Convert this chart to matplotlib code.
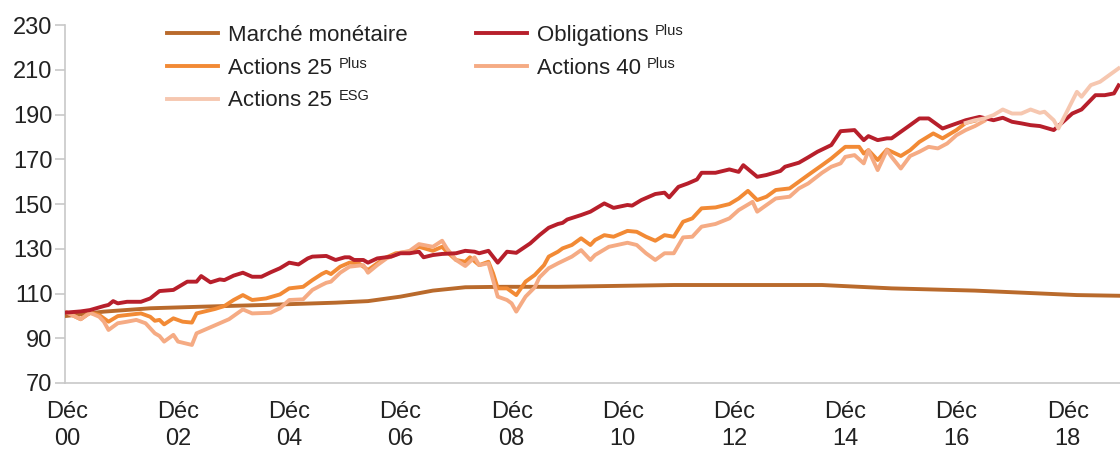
import matplotlib
matplotlib.use("Agg")
import matplotlib.pyplot as plt

plt.rcParams['font.family'] = ['Liberation Sans', 'DejaVu Sans']

# months since Dec 2000, index values
mm_m = [0, 8, 18, 29, 43, 58, 65, 72, 79, 86, 94, 106, 131, 163, 178, 196, 218, 227]
mm_v = [100, 101.9, 103.4, 104.1, 104.9, 105.9, 106.6, 108.6, 111.3, 112.8, 113, 113,
        113.8, 113.8, 112.3, 111.3, 109.3, 109]

ob_m = [0, 3, 5, 8, 9, 10, 11, 13, 16, 18, 20, 23, 26, 28, 29, 31, 33, 34, 36, 38, 40, 42,
        44, 46, 48, 50, 52, 53, 56, 58, 60, 61, 62, 64, 65, 67, 70, 72, 74, 76, 77, 79, 81,
        84, 86, 88, 89, 91, 93, 95, 97, 100, 102, 104, 106, 107, 108, 111, 113, 116, 118,
        121, 122, 124, 127, 129, 130, 132, 134, 136, 137, 140, 143, 145, 146, 149, 151, 154,
        155, 158, 160, 162, 165, 167, 170, 172, 173, 175, 177, 178, 182, 184, 186, 189, 191,
        194, 197, 200, 202, 204, 206, 208, 210, 213, 214, 217, 219, 222, 224, 226, 227]
ob_v = [101.5, 102, 102.6, 104.4, 104.9, 106.6, 105.6, 106.3, 106.3, 107.8, 111.1, 111.6,
        115.3, 115.3, 117.8, 115, 116.3, 116, 118, 119.3, 117.5, 117.5, 119.5, 121.3, 123.8,
        123, 125.7, 126.5, 126.8, 125, 126.2, 126.2, 125, 125, 123.8, 125.7, 126.5, 128, 128,
        128.7, 126.2, 127.2, 127.7, 128, 129.1, 128.7, 128, 129.1, 123.8, 128.7, 128.2, 132.4,
        136.1, 139.4, 141.1, 141.6, 143.1, 145.1, 146.6, 150.3, 148.3, 149.6, 149.3, 151.8,
        154.5, 155.1, 153, 157.7, 159.2, 161, 164, 164, 165.5, 164.4, 167.4, 162.2, 163, 164.8,
        166.7, 168.5, 170.9, 173.4, 176.4, 182.6, 183.1, 178.6, 180.4, 178.6, 179.4, 179.4,
        185.3, 188.3, 188.3, 183.8, 185.3, 187.5, 189, 187.5, 188.6, 186.8, 186.1, 185.3,
        184.9, 183.1, 184.9, 190.5, 192.3, 198.7, 198.7, 199.5, 203.1]

a25_m = [0, 3, 5, 7, 8, 9, 11, 13, 16, 18, 19, 20, 21, 23, 25, 27, 28, 31, 32, 34, 36, 38,
         40, 43, 46, 48, 51, 53, 55, 56, 57, 59, 61, 63, 65, 67, 69, 71, 74, 76, 79, 81, 82,
         84, 86, 87, 89, 91, 92, 93, 95, 97, 99, 101, 103, 104, 106, 107, 109, 111, 113, 114,
         116, 118, 121, 123, 125, 127, 129, 131, 133, 135, 137, 140, 143, 145, 147, 149, 151,
         153, 156, 158, 160, 163, 165, 168, 171, 172, 173, 175, 177, 180, 182, 184, 187, 189,
         192, 194, 196]
a25_v = [101.5, 98.5, 101.4, 100.4, 98.9, 97.4, 99.9, 100.4, 101.1, 99.6, 97.8, 98.2, 96.2,
         98.9, 97.4, 97, 101.1, 102.6, 103.1, 104.4, 107.1, 109.3, 107.1, 107.8, 109.6, 112.3,
         113, 116, 118.7, 119.7, 118.7, 122, 123.8, 123.5, 120.5, 123.5, 126.2, 128, 128.7,
         130.9, 129.1, 130.9, 128.7, 125, 124.2, 126.2, 122.7, 124.2, 119, 112.3, 112.3, 109.3,
         115.3, 118.3, 122.7, 126.5, 128.7, 130.2, 131.7, 134.7, 131.7, 133.9, 136.1, 135.4,
         138, 137.6, 135.4, 133.6, 136.1, 135.4, 142.1, 143.6, 148.1, 148.5, 150, 152.5, 155.9,
         151.8, 153.3, 156.3, 157, 160, 163, 167.4, 170.4, 175.6, 175.6, 172.6, 174.1, 169.7,
         174.4, 171.5, 174.1, 177.8, 181.6, 179.4, 183.1, 186.3, 187.3]

a40_m = [0, 3, 5, 7, 8, 9, 11, 13, 15, 17, 19, 20, 21, 23, 24, 27, 28, 31, 33, 35, 38, 40,
         44, 46, 48, 51, 53, 55, 56, 57, 59, 61, 64, 65, 67, 69, 72, 74, 76, 79, 81, 82, 84,
         86, 88, 89, 91, 92, 93, 95, 96, 97, 99, 101, 102, 104, 106, 109, 111, 113, 114, 117,
         121, 123, 125, 127, 129, 131, 133, 135, 137, 140, 143, 145, 148, 149, 150, 153, 156,
         158, 160, 163, 165, 167, 168, 170, 172, 173, 175, 177, 178, 180, 182, 184, 186, 188,
         190, 192, 194, 196, 198]
a40_v = [101.5, 98.5, 101.4, 99.6, 97.4, 93.7, 96.7, 97.4, 98.2, 96.7, 92.2, 91, 88.5, 91.5,
         88.5, 87, 92.2, 94.9, 96.7, 98.5, 102.9, 101.1, 101.4, 103.4, 107.1, 107.4, 111.6,
         113.8, 114.8, 115.3, 119.3, 122, 122.7, 119.3, 122.7, 125.7, 128.2, 129.1, 132.1,
         130.9, 133.6, 130.2, 125, 122.3, 126.2, 122.7, 123.5, 116, 108.6, 107.1, 105.6, 101.9,
         108.6, 112.8, 117.2, 121.3, 123.5, 126.5, 129.4, 125, 127.2, 130.9, 132.7, 131.7, 128,
         125, 128, 128, 135.1, 135.4, 139.9, 141.1, 143.6, 147.3, 151, 146.6, 148.1, 152.5,
         153.3, 157, 159.2, 164, 166.7, 168.2, 171.1, 171.9, 168.2, 174.1, 165.2, 174.1, 171.1,
         165.9, 171.5, 173.4, 175.6, 174.9, 177.1, 180.8, 183.1, 184.9, 187.2]

esg_m = [194, 196, 198, 200, 202, 204, 206, 208, 210, 211, 213, 214, 216, 218, 219, 221,
         223, 225, 227]
esg_v = [186.3, 187.5, 188.3, 189.8, 192.3, 190.5, 190.5, 192.3, 190.8, 191.3, 187.5, 183.8,
         192, 200.2, 198, 203.2, 204.7, 207.7, 210.7]

tick_pos = [0, 24, 48, 72, 96, 120, 144, 168, 192, 216]
tick_lab = ["Déc\n00", "Déc\n02", "Déc\n04", "Déc\n06", "Déc\n08",
            "Déc\n10", "Déc\n12", "Déc\n14", "Déc\n16", "Déc\n18"]

# legend order (column-wise) and superscripts
names = ['Marché monétaire', 'Actions 25', 'Actions 25', 'Obligations', 'Actions 40']
sups = ['', 'Plus', 'ESG', 'Plus', 'Plus']

fig = plt.figure(figsize=(11.2, 4.5), dpi=100)
ax = fig.add_axes([0.058, 0.149, 0.942, 0.795])

lw = 2.8
ax.plot(mm_m, mm_v, color='#b96a2c', lw=lw, label=names[0], zorder=3)
ax.plot(a25_m, a25_v, color='#f28a35', lw=lw, label=names[1], zorder=4)
ax.plot(esg_m, esg_v, color='#f6c7b0', lw=lw, label=names[2], zorder=6)
ax.plot(ob_m, ob_v, color='#b71f2b', lw=lw, label=names[3], zorder=5)
ax.plot(a40_m, a40_v, color='#f5ab84', lw=lw, label=names[4], zorder=4)

ax.set_xlim(-0.4, 227.3)
ax.set_ylim(70, 230)
ax.set_yticks(range(70, 231, 20))
ax.set_xticks(tick_pos)
ax.set_xticklabels(tick_lab)

for s in ['top', 'right']:
    ax.spines[s].set_visible(False)
for s in ['left', 'bottom']:
    ax.spines[s].set_color('#c8c8c8')
    ax.spines[s].set_linewidth(1.2)
ax.tick_params(axis='y', colors='#c8c8c8', labelcolor='#222222', labelsize=17,
               length=7, width=1.2, pad=2)
ax.tick_params(axis='x', length=0, labelcolor='#222222', labelsize=17, pad=13)
for t in ax.get_xticklabels():
    t.set_linespacing(1.3)

leg = ax.legend(ncol=2, loc='upper left', bbox_to_anchor=(0.097, 1.0), frameon=False,
                fontsize=16, handlelength=2.3, handletextpad=0.45, columnspacing=3.05,
                labelspacing=0.52, borderpad=0, borderaxespad=0)
for t in leg.get_texts():
    t.set_color('#222222')

# small raised "Plus"/"ESG" after the legend labels
fig.canvas.draw()
r = fig.canvas.get_renderer()
for t, s in zip(leg.get_texts(), sups):
    if not s:
        continue
    bb = t.get_window_extent(r)
    fig.text((bb.x1 + 6) / fig.bbox.width, (bb.y1 + 1) / fig.bbox.height, s,
             fontsize=10.5, color='#222222', va='top', ha='left')

fig.savefig('out.png', dpi=100)
